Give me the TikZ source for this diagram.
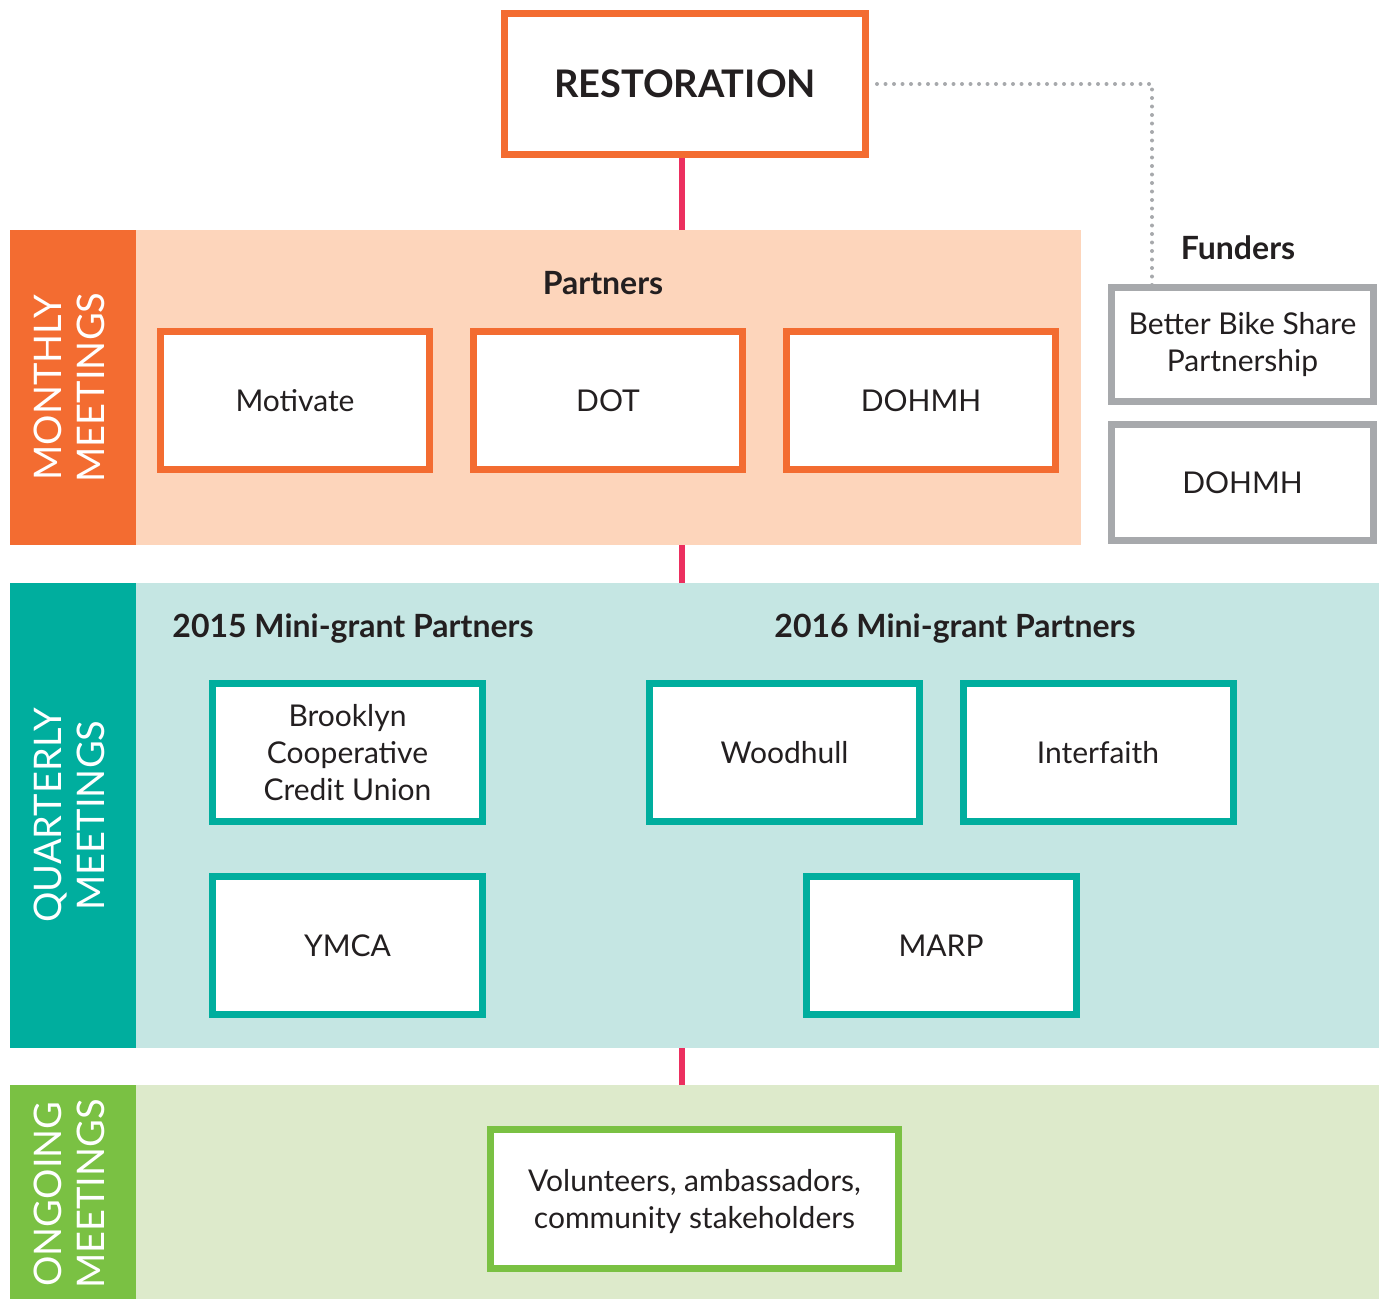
\documentclass[tikz,border=0pt]{standalone}
\usepackage{fontspec}
\setmainfont{Lato}
\usetikzlibrary{backgrounds}
\definecolor{cOrange}{HTML}{F36C31}
\definecolor{cPeach}{HTML}{FDD5BB}
\definecolor{cTeal}{HTML}{00AE9E}
\definecolor{cLTeal}{HTML}{C5E6E3}
\definecolor{cGreen}{HTML}{7AC143}
\definecolor{cLGreen}{HTML}{DDEACB}
\definecolor{cGray}{HTML}{A7A9AC}
\definecolor{cPink}{HTML}{EC2F5F}
\definecolor{cText}{HTML}{231F20}
\tikzset{
  box/.style={draw, line width=7pt, fill=white, inner sep=0pt, align=center,
    text=cText, font=\fontsize{30}{37}\selectfont},
  obox/.style={box, draw=cOrange, minimum width=269pt, minimum height=138pt},
  tbox/.style={box, draw=cTeal, minimum width=270pt, minimum height=138pt},
  gbox/.style={box, draw=cGray, minimum width=262pt},
  band/.style={inner sep=0pt, outer sep=0pt},
  sidelabel/.style={rotate=90, text=white, align=center, inner sep=0pt,
    font=\fontsize{38}{43}\selectfont},
  header/.style={text=cText, inner sep=0pt, font=\bfseries\fontsize{32}{36}\selectfont},
  pinkline/.style={draw=cPink, line width=6pt},
  dotline/.style={draw=cGray, line width=4pt, line cap=round, dash pattern=on 0pt off 8.5pt},
}
\begin{document}
\begin{tikzpicture}[x=1pt,y=-1pt]
\useasboundingbox (0,0) rectangle (1384,1299);
% bands
\node[band, fill=cOrange, minimum width=126pt, minimum height=315pt] (mlab) at (73,387.5) {};
\node[band, fill=cPeach, minimum width=945pt, minimum height=315pt] (mpan) at (608.5,387.5) {};
\node[band, fill=cTeal, minimum width=126pt, minimum height=465pt] (qlab) at (73,815.5) {};
\node[band, fill=cLTeal, minimum width=1243pt, minimum height=465pt] (qpan) at (757.5,815.5) {};
\node[band, fill=cGreen, minimum width=126pt, minimum height=214pt] (olab) at (73,1192) {};
\node[band, fill=cLGreen, minimum width=1243pt, minimum height=214pt] (opan) at (757.5,1192) {};
\node[sidelabel] (mtxt) at ([xshift=-4pt]mlab.center) {MONTHLY\\MEETINGS};
\node[sidelabel] (qtxt) at ([xshift=-4pt]qlab.center) {QUARTERLY\\MEETINGS};
\node[sidelabel] (otxt) at ([xshift=-4pt,yshift=-2pt]olab.center) {ONGOING\\MEETINGS};
% top
\node[box, draw=cOrange, minimum width=361pt, minimum height=141pt,
  font=\bfseries\fontsize{38}{44}\selectfont] (rest) at (685,84) {RESTORATION};
% headers
\node[header] (hpart) at (603,283) {Partners};
\node[header] (hfund) at (1238,248) {Funders};
\node[header] (h2015) at (353,629) {2015 Mini-grant Partners};
\node[header] (h2016) at (955,629) {2016 Mini-grant Partners};
% monthly boxes
\node[obox] (motivate) at (295,400.5) {Motivate};
\node[obox] (dot) at (608,400.5) {DOT};
\node[obox] (dohmh) at (921,400.5) {DOHMH};
% funders
\node[gbox, minimum height=114pt] (bbs) at (1242.5,344.5) {Better Bike Share\\Partnership};
\node[gbox, minimum height=116pt] (fdohmh) at (1242.5,482.5) {DOHMH};
% quarterly boxes
\node[tbox, text depth=0pt] (bccu) at (347.5,752.5) {Brooklyn\\Cooperative\\Credit Union};
\node[tbox] (ymca) at (347.5,945.5) {YMCA};
\node[tbox] (woodhull) at (784.5,752.5) {Woodhull};
\node[tbox] (interfaith) at (1098,752.5) {Interfaith};
\node[tbox] (marp) at (941,945.5) {MARP};
% ongoing
\node[box, draw=cGreen, minimum width=408pt, minimum height=139pt, text depth=0pt] (vol) at (694.5,1199)
  {Volunteers, ambassadors,\\community stakeholders};
% connectors
\coordinate (cx) at (682,0);
\coordinate (fx) at (1152,0);
\begin{scope}[on background layer]
\draw[pinkline] (rest.south -| cx) -- (mpan.north -| cx);
\draw[pinkline] (mpan.south -| cx) -- (qpan.north -| cx);
\draw[pinkline] (qpan.south -| cx) -- (opan.north -| cx);
\end{scope}
\draw[dotline] ([xshift=8pt]rest.east) -| ([yshift=-6pt]fx |- bbs.north);
\end{tikzpicture}
\end{document}
